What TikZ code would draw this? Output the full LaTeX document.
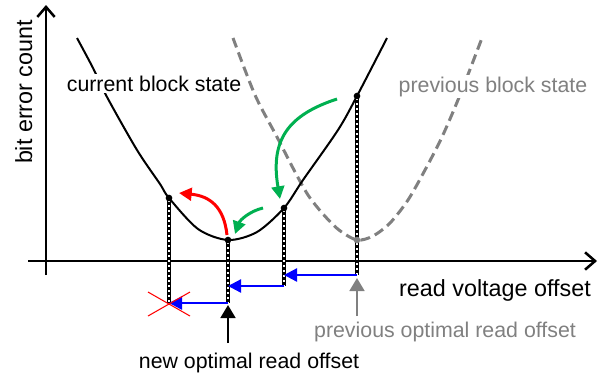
\documentclass[tikz,border=0pt]{standalone}
\usepackage{fontspec}
\setmainfont{Liberation Sans}
\usetikzlibrary{arrows.meta}
\definecolor{myblue}{RGB}{0,0,255}
\definecolor{mygreen}{RGB}{0,176,80}
\definecolor{mygray}{RGB}{128,128,128}
\definecolor{myred}{RGB}{255,0,0}
\tikzset{
  axisline/.style={line width=1.9pt, -{Straight Barb[length=7.5pt,width=13pt]}},
  curcurve/.style={line width=1.5pt},
  prevcurve/.style={mygray, line width=2.25pt, dash pattern=on 7.5pt off 4pt},
  lbl/.style={font=\fontsize{16}{19}\selectfont, anchor=base, inner sep=0pt},
  axlbl/.style={font=\fontsize{17.5}{21}\selectfont, anchor=base, inner sep=0pt},
  dot/.style={circle, fill=black, inner sep=0pt, minimum size=5pt},
  vblack/.style={black, line width=2.4pt},
  vwhite/.style={white, line width=0.8pt, dash pattern=on 1.5pt off 2.25pt, dash phase=2.25pt},
  bluearrow/.style={myblue, line width=1.75pt, -{Triangle[length=9.75pt,width=9.75pt]}},
  bentarrow/.style={line width=2.25pt, -{Triangle[length=9.5pt,width=9.5pt]}},
  uparrow/.style={line width=2pt, -{Triangle[length=9.75pt,width=11pt]}},
}
\begin{document}
\begin{tikzpicture}[x=0.75pt,y=-0.75pt]
\useasboundingbox (0,0) rectangle (610,376);

% axes
\coordinate (yb) at (46,275); \coordinate (yt) at (46,5);
\coordinate (xl) at (28,261); \coordinate (xr) at (597,261);
\draw[axisline] (yb) -- (yt);
\draw[axisline] (xl) -- (xr);

% curves
\draw[prevcurve] plot[smooth, tension=0.5] coordinates {(233,38) (255,95) (277,137) (294,170) (308,195) (323,214) (339,230) (357,240) (373,236) (390,223) (408,200) (425,170) (442,137) (460,95) (482,38)};
\draw[curcurve] plot[smooth, tension=0.5] coordinates {(77,38) (93,68) (107,97) (137,150) (160,184) (169,198) (198,229) (228,240) (257,232) (284,208) (303,180) (338,130) (357,96) (387,38)};

% labels with white background
\node[lbl, fill=white, inner sep=1.5pt] (cur) at (154,91) {current block state};
\node[lbl, fill=white, inner sep=1.5pt, text=mygray] (prev) at (493,92) {previous block state};
\node[axlbl] (xlab) at (495,296) {read voltage offset};
\node[axlbl, rotate=90] (ylab) at (32,92) {bit error count};
\node[lbl, text=mygray] (prevopt) at (445,337) {previous optimal read offset};
\node[lbl] (newopt) at (249,368) {new optimal read offset};

% points
\coordinate (pA) at (357,96);
\coordinate (pB) at (284,208);
\coordinate (pC) at (228,240);
\coordinate (pD) at (169,198);
\coordinate (pG) at (357,240);
\coordinate (bA) at (357,275);
\coordinate (bB) at (284,275);
\coordinate (bB2) at (284,286);
\coordinate (bC) at (228,286);
\coordinate (bC2) at (228,303);
\coordinate (bD) at (169,303);

% dotted verticals
\foreach \a/\b in {pA/bA, pB/bB2, pC/bC2, pD/bD}{
  \draw[vblack] (\a) -- (\b);
  \draw[vwhite] (\a) -- (\b);
}

% blue arrows
\draw[bluearrow] (bA) -- (bB);
\draw[bluearrow] (bB2) -- (bC);
\draw[bluearrow] (bC2) -- (bD);

% red cross
\draw[myred, line width=0.8pt] (148,292) -- (190,316);
\draw[myred, line width=0.8pt] (148,316) -- (190,292);

% up arrows
\coordinate (newbot) at (228,343); \coordinate (newtip) at (228,305);
\coordinate (prevbot) at (357,316); \coordinate (prevtip) at (357,278);
\draw[uparrow, black] (newbot) -- (newtip);
\draw[uparrow, mygray] (prevbot) -- (prevtip);

% bent arrows
\coordinate (g1s) at (337,99); \coordinate (g1e) at (280,199);
\coordinate (g2s) at (263,208); \coordinate (g2e) at (235,234);
\coordinate (rs) at (227,235); \coordinate (re) at (179,193);
\draw[bentarrow, mygreen] (g1s) .. controls (288,115) and (270,140) .. (g1e);
\draw[bentarrow, mygreen] (g2s) .. controls (250,211) and (240,220) .. (g2e);
\draw[bentarrow, myred] (rs) .. controls (224,207) and (210,196) .. (re);

% dots
\node[dot] (dA) at (pA) {};
\node[dot] (dB) at (pB) {};
\node[dot] (dC) at (pC) {};
\node[dot] (dD) at (pD) {};
\node[dot, fill=mygray] (dG) at (pG) {};
\end{tikzpicture}
\end{document}
